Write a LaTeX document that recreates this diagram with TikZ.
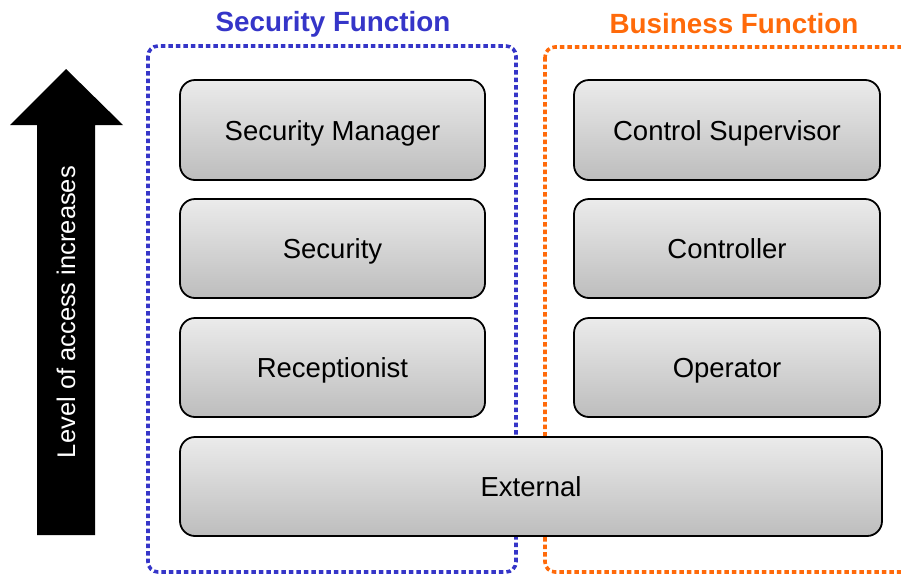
\documentclass[tikz,border=0pt]{standalone}
\usepackage{fontspec}
\setmainfont{Liberation Sans}
\usetikzlibrary{shapes.arrows}
\definecolor{secblue}{HTML}{3535C8}
\definecolor{busorange}{HTML}{FF6A0A}
\definecolor{boxtop}{HTML}{EBEBEB}
\definecolor{boxbot}{HTML}{BDBDBD}
\begin{document}
\begin{tikzpicture}[x=1pt,y=-1pt,
  rolebox/.style={draw=black, line width=1.8pt, rounded corners=15pt,
    top color=boxtop, bottom color=boxbot, font=\fontsize{27.5}{32}\selectfont},
  roletext/.style={text height=20pt, text depth=0pt, anchor=center},
  funcbox/.style={line width=3.6pt, dash pattern=on 4.5pt off 3pt, rounded corners=10pt},
  functitle/.style={font=\fontsize{27.8}{32}\selectfont\bfseries}
]
\useasboundingbox (0,0) rectangle (901,576);
\clip (0,0) rectangle (901,576);
% function boxes (behind)
\draw[funcbox, secblue] (148,46) rectangle (516,572);
\draw[funcbox, busorange] (545,47) rectangle (930,572);
\node[functitle, text=secblue] (sftitle) at (333,24) {Security Function};
\node[functitle, text=busorange] (bftitle) at (734,24) {Business Function};
% arrow
\fill[black] (37,535) -- (37,125) -- (10,125) -- (66,69) -- (123,125) -- (95,125) -- (95,535) -- cycle;
\node[text=white, rotate=90, font=\fontsize{25.5}{30}\selectfont] (lvl) at (66,312) {Level of access increases};
% role boxes
\path[rolebox] (180,80) rectangle (485,180) node[midway, roletext] (sm) {Security Manager};
\path[rolebox] (180,199) rectangle (485,298) node[midway, roletext] (sec) {Security};
\path[rolebox] (180,318) rectangle (485,417) node[midway, roletext] (rec) {Receptionist};
\path[rolebox] (574,80) rectangle (880,180) node[midway, roletext] (cs) {Control Supervisor};
\path[rolebox] (574,199) rectangle (880,298) node[midway, roletext] (ctl) {Controller};
\path[rolebox] (574,318) rectangle (880,417) node[midway, roletext] (op) {Operator};
\path[rolebox] (180,437) rectangle (882,536) node[midway, roletext] (ext) {External};
\end{tikzpicture}
\end{document}
